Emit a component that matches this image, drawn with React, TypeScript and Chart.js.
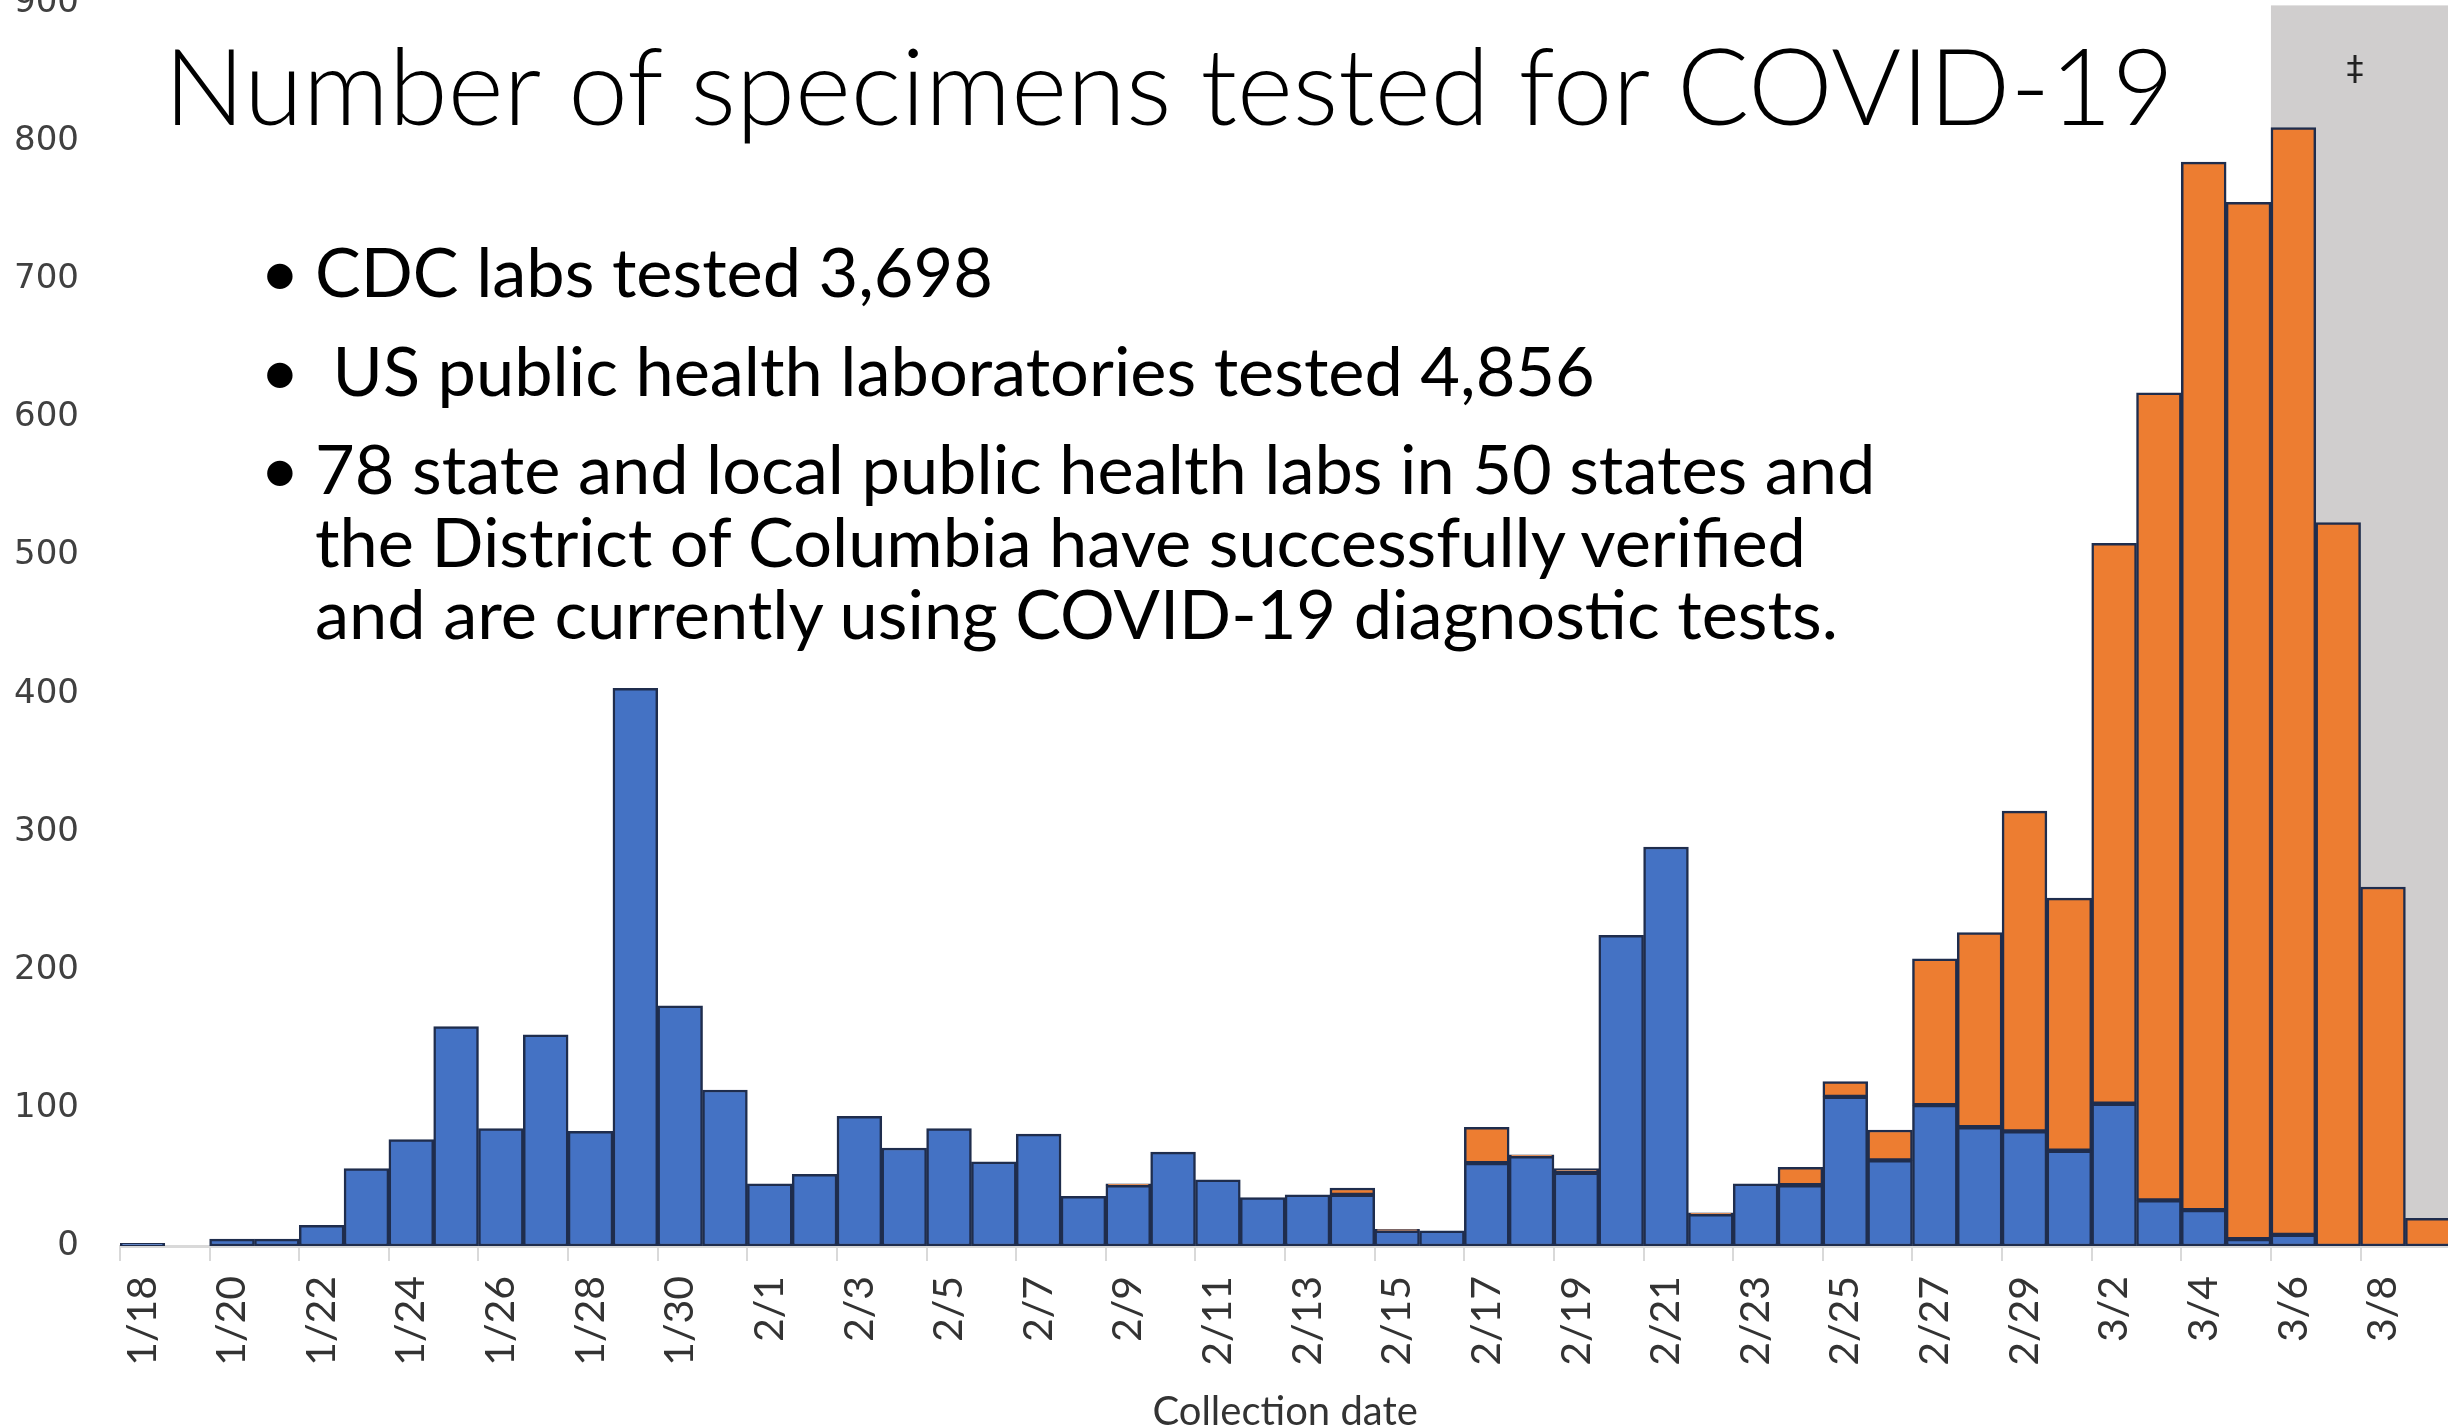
import React, { useEffect, useRef } from 'react';
import { Chart, registerables } from 'chart.js';

Chart.register(...registerables);

// ---------- data ----------
const dates = [
  '1/18', '1/19', '1/20', '1/21', '1/22', '1/23', '1/24', '1/25', '1/26', '1/27', '1/28', '1/29', '1/30', '1/31',
  '2/1', '2/2', '2/3', '2/4', '2/5', '2/6', '2/7', '2/8', '2/9', '2/10', '2/11', '2/12', '2/13', '2/14', '2/15',
  '2/16', '2/17', '2/18', '2/19', '2/20', '2/21', '2/22', '2/23', '2/24', '2/25', '2/26', '2/27', '2/28', '2/29',
  '3/1', '3/2', '3/3', '3/4', '3/5', '3/6', '3/7', '3/8', '3/9',
];

const cdcLabs = [
  2, 0, 5, 5, 15, 56, 77, 159, 85, 153, 83, 404, 174, 113,
  45, 52, 94, 71, 85, 61, 81, 36, 44, 68, 48, 35, 37, 37, 11,
  11, 60, 65, 53, 225, 289, 23, 45, 44, 108, 62, 102, 86, 83,
  69, 103, 33, 26, 5, 8, 0, 0, 0,
];

const publicHealthLabs = [
  0, 0, 0, 0, 0, 0, 0, 0, 0, 0, 0, 0, 0, 0,
  0, 0, 0, 0, 0, 0, 0, 0, 1, 0, 0, 0, 0, 5, 1,
  0, 26, 1, 3, 0, 0, 1, 0, 13, 11, 22, 106, 141, 232,
  183, 406, 585, 759, 751, 802, 524, 260, 20,
];

const yMin = 0;
const yMax = 900;
const yStep = 100;
const shadedFrom = '3/6';
const shadeMark = '‡';

const titleText = 'Number of specimens tested for COVID-19';
const xTitle = 'Collection date';
const bulletLines = [
  { bullet: true, text: 'CDC labs tested 3,698' },
  { bullet: true, text: '\u00a0US public health laboratories tested 4,856' },
  { bullet: true, text: '78 state and local public health labs in 50 states and' },
  { bullet: false, text: 'the District of Columbia have successfully verified' },
  { bullet: false, text: 'and are currently using COVID-19 diagnostic tests.' },
];
const bulletCenters = [273, 372, 470, 543, 615];

// ---------- style ----------
const BLUE = '#4472C4';
const ORANGE = '#ED7D31';
const EDGE = '#1F2D4D';
const GREY = '#D0CECE';
const TEXT = '#404040';

const CANVAS_W = 2492;
const CANVAS_H = 1520;
const CANVAS_TOP = -58;

const shadePlugin = {
  id: 'shadeRegion',
  beforeDatasetsDraw(chart: any) {
    const { ctx, chartArea, scales } = chart;
    const x = scales.x;
    const i = dates.indexOf(shadedFrom);
    const half = (x.getPixelForValue(1) - x.getPixelForValue(0)) / 2;
    const x0 = x.getPixelForValue(i) - half;
    ctx.save();
    ctx.fillStyle = GREY;
    ctx.fillRect(x0, chartArea.top + 2, chart.width - x0, chartArea.bottom - chartArea.top - 2);
    ctx.fillStyle = '#222';
    ctx.font = '34px "DejaVu Sans"';
    ctx.textAlign = 'center';
    ctx.textBaseline = 'middle';
    ctx.fillText(shadeMark, x0 + 84, chartArea.top + 68);
    ctx.restore();
  },
};

export default function App() {
  const canvasRef = useRef<HTMLCanvasElement | null>(null);

  useEffect(() => {
    if (!canvasRef.current) return;
    const chart = new Chart(canvasRef.current, {
      type: 'bar',
      data: {
        labels: dates,
        datasets: [
          {
            label: 'CDC labs',
            data: cdcLabs,
            backgroundColor: BLUE,
            borderColor: EDGE,
            borderWidth: 2.5,
            borderSkipped: false,
            barPercentage: 1,
            categoryPercentage: 1,
          },
          {
            label: 'US public health laboratories',
            data: publicHealthLabs,
            backgroundColor: ORANGE,
            borderColor: EDGE,
            borderWidth: 2.5,
            borderSkipped: false,
            barPercentage: 1,
            categoryPercentage: 1,
          },
        ],
      },
      options: {
        responsive: false,
        animation: false,
        devicePixelRatio: 1,
        layout: { padding: 0 },
        plugins: {
          legend: { display: false },
          tooltip: { enabled: false },
          title: { display: false },
        },
        scales: {
          x: {
            stacked: true,
            offset: true,
            grid: {
              display: true,
              offset: true,
              drawOnChartArea: false,
              drawTicks: true,
              tickLength: 15,
              lineWidth: 2,
              color: (ctx: any) => (ctx.index % 2 === 0 ? '#D9D9D9' : 'rgba(0,0,0,0)'),
            },
            border: { display: true, color: '#D9D9D9', width: 3 },
            ticks: {
              autoSkip: false,
              minRotation: 90,
              maxRotation: 90,
              padding: 15,
              color: '#333333',
              font: { family: 'Lato', size: 41 },
              callback: (_v: any, i: number) => (i % 2 === 0 ? dates[i] : ''),
            },
            title: {
              display: true,
              text: xTitle,
              color: '#333333',
              font: { family: 'Lato', size: 40 },
              padding: { top: 0, bottom: 26 },
            },
            afterFit: (scale: any) => {
              scale.height = 216;
            },
          },
          y: {
            stacked: true,
            min: yMin,
            max: yMax,
            grid: { display: false, drawTicks: false },
            border: { display: false },
            ticks: {
              stepSize: yStep,
              padding: 41,
              color: TEXT,
              font: { family: 'DejaVu Sans', size: 34 },
            },
            afterFit: (scale: any) => {
              scale.width = 120;
            },
          },
        },
      },
      plugins: [shadePlugin],
    });
    return () => chart.destroy();
  }, []);

  const F = 68.5;
  const T = 107;
  return (
    <div
      style={{
        position: 'fixed',
        left: 0,
        top: 0,
        width: 2448,
        height: 1428,
        overflow: 'hidden',
        background: '#fff',
      }}
    >
      <div style={{ position: 'absolute', left: 0, top: CANVAS_TOP, width: CANVAS_W, height: CANVAS_H }}>
        <canvas ref={canvasRef} width={CANVAS_W} height={CANVAS_H} style={{ width: CANVAS_W, height: CANVAS_H }} />
      </div>
      <div
        style={{
          position: 'absolute',
          left: 164,
          top: 125 - 0.887 * T,
          fontFamily: 'Lato',
          fontWeight: 300,
          fontSize: T,
          lineHeight: 1,
          color: '#000',
          whiteSpace: 'nowrap',
        }}
      >
        {titleText}
      </div>
      {bulletLines.map((l, k) => (
        <div
          key={k}
          style={{
            position: 'absolute',
            left: 315,
            top: bulletCenters[k] - 0.529 * F,
            fontFamily: 'Lato',
            fontSize: F,
            lineHeight: 1,
            color: '#000',
            whiteSpace: 'nowrap',
          }}
        >
          {l.bullet && (
            <span style={{ position: 'absolute', left: -55, top: 0 }}>•</span>
          )}
          {l.text}
        </div>
      ))}
    </div>
  );
}
